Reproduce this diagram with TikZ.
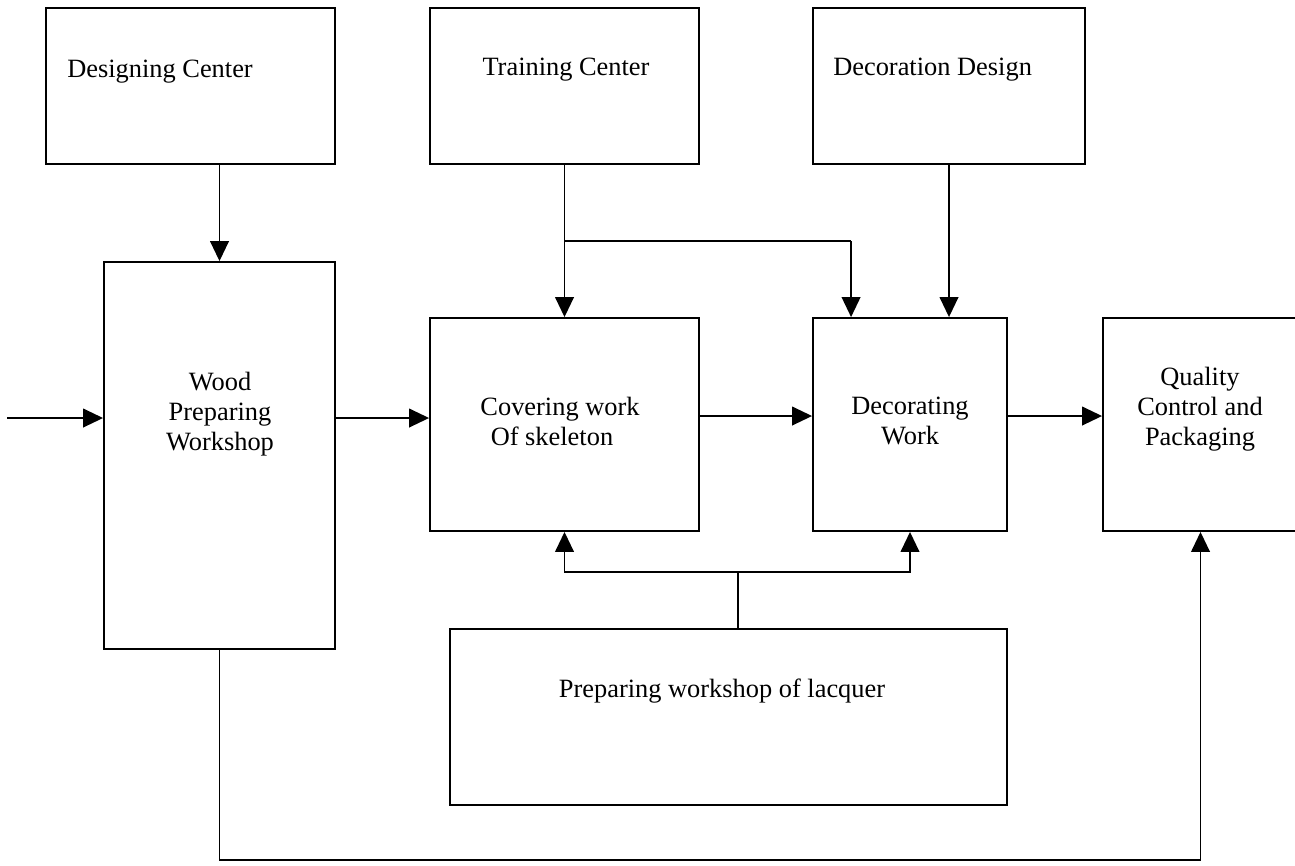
\documentclass[tikz,border=0pt]{standalone}
\usepackage{fontspec}
\setmainfont{Liberation Serif}
\usetikzlibrary{arrows.meta,calc,fit}
\begin{document}
\begin{tikzpicture}[x=0.75pt,y=-0.75pt,
  box/.style={draw, line width=1.4pt, inner sep=0pt, fit={#1}},
  txt/.style={font=\fontsize{19.8pt}{22.5pt}\selectfont, inner sep=0pt, align=center},
  link/.style={line width=1.4pt},
  arr/.style={link, -{Triangle[length=15pt,width=14pt]}}]
\useasboundingbox (0,0) rectangle (1295,865);

% top row
\node[box={(46,8) (335,164)}]   (des) {};
\node[box={(430,8) (699,164)}]  (trn) {};
\node[box={(813,8) (1085,164)}] (dsn) {};
% middle row
\node[box={(104,262) (335,649)}]  (wood) {};
\node[box={(430,318) (699,531)}]  (cov) {};
\node[box={(813,318) (1007,531)}] (dec) {};
\node[box={(1103,318) (1298,531)}] (qc) {};
% bottom
\node[box={(450,629) (1007,805)}] (lac) {};

% labels
\node[txt, anchor=base west] (desT) at (67,77) {Designing Center};
\node[txt, anchor=base] (trnT) at (566,75) {Training Center};
\node[txt, anchor=base west] (dsnT) at (833,75) {Decoration Design};
\node[txt] (woodT) at (220,414) {Wood\\Preparing\\Workshop};
\node[txt] (covT) at (560,421) {Covering work\\Of skeleton\hspace*{12pt}};
\node[txt] (decT) at (910,421) {Decorating\\Work};
\node[txt] (qcT) at (1200,409) {Quality\\Control and\\Packaging};
\node[txt, anchor=base] (lacT) at (722,697) {Preparing workshop of lacquer};

% connectors
\coordinate (in) at (7,418);
\coordinate (mid) at (0,416);
\coordinate (br) at ($(trn.south)!0.5!(cov.north)$);
\coordinate (lj) at (738,572);
\coordinate (bl) at (0,860);

\draw[arr] (des.south -| wood.north) -- (wood.north);
\draw[arr] (trn.south) -- (cov.north);
\draw[link] (br) -- ($(br -| dec.north west)+(39,0)$);
\draw[arr] ($(br -| dec.north west)+(39,0)$) -- ($(dec.north west)+(39,0)$);
\draw[arr] (dsn.south) -- (dsn.south |- dec.north);

\draw[arr] (in) -- (in -| wood.west);
\draw[arr] (wood.east |- in) -- (cov.west |- in);
\draw[arr] (cov.east |- mid) -- (dec.west |- mid);
\draw[arr] (dec.east |- mid) -- (qc.west |- mid);

\draw[link] (lac.north -| lj) -- (lj);
\draw[arr] (lj) -| (cov.south);
\draw[arr] (lj) -| (dec.south);

\draw[arr] (wood.south) -- (wood.south |- bl) -| (qc.south);
\end{tikzpicture}
\end{document}
